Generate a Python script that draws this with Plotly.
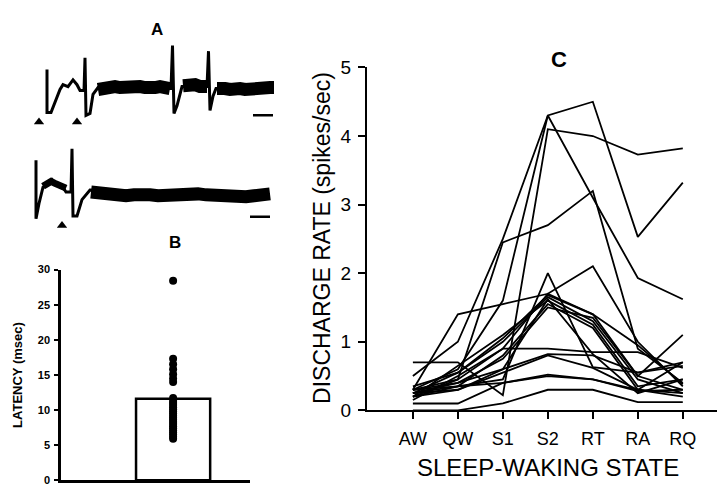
import plotly.graph_objects as go

# ---------------- Panel C data ----------------
states = ["AW", "QW", "S1", "S2", "RT", "RA", "RQ"]
rate_series = [
    [0.30, 1.40, 1.55, 1.70, 2.10, 1.00, 0.35],
    [0.50, 1.00, 2.50, 4.30, 4.50, 2.53, 3.32],
    [0.30, 0.60, 1.60, 4.30, 3.10, 1.93, 1.62],
    [0.70, 0.70, 0.22, 4.10, 4.00, 3.73, 3.82],
    [0.20, 0.45, 2.45, 2.70, 3.20, 0.90, 0.40],
    [0.25, 0.35, 0.45, 2.00, 0.63, 0.55, 0.70],
    [0.30, 0.45, 0.90, 1.70, 1.40, 0.50, 0.30],
    [0.25, 0.55, 1.00, 1.65, 1.30, 0.45, 0.25],
    [0.20, 0.65, 1.10, 1.60, 1.25, 0.35, 0.45],
    [0.30, 0.35, 0.80, 1.55, 1.20, 0.30, 0.70],
    [0.25, 0.40, 0.75, 1.50, 1.35, 0.50, 1.10],
    [0.15, 0.50, 0.90, 0.90, 0.85, 0.85, 0.62],
    [0.30, 0.40, 0.60, 0.82, 0.80, 0.55, 0.65],
    [0.25, 0.30, 0.55, 0.80, 0.62, 0.30, 0.20],
    [0.20, 0.35, 0.40, 0.52, 0.45, 0.30, 0.25],
    [0.00, 0.00, 0.10, 0.30, 0.30, 0.12, 0.12],
    [0.10, 0.10, 0.40, 0.50, 0.45, 0.28, 0.30],
    [0.35, 0.55, 1.05, 1.68, 1.40, 0.95, 0.38],
    [0.20, 0.30, 0.60, 1.62, 0.82, 0.25, 0.45],
]
rate_ticks = [0, 1, 2, 3, 4, 5]

# ---------------- Panel B data ----------------
latency_mean = 11.6
latency_values = [28.4, 17.3, 16.5, 15.8, 15.1, 14.5, 14.0,
                  11.7, 11.3, 11.0, 10.7, 10.4, 10.1, 9.8, 9.5, 9.2, 8.9,
                  8.6, 8.3, 8.0, 7.7, 7.4, 7.1, 6.8, 6.5, 6.2, 5.9]
latency_ticks = [0, 5, 10, 15, 20, 25, 30]

# ---------------- Panel A data (recordings, time vs voltage) ----------------
top_t = [47, 47, 51, 55, 60, 63, 68, 73, 77, 80, 84, 85, 86, 90, 93, 98,
         171, 172.5, 174, 177, 182, 207, 208.5, 210, 213, 216, 274]
top_v = [20, -25, -25, -15, -1, 4, 2, 9, 4, -2, -2, 32, -28, -26, -6, 1,
         0, 45, -26, -18, 2, 2, 39, -23, -8, 0, 0]
top_band1_t = [98, 102, 106, 110, 115, 120, 125, 130, 135, 140, 145, 150, 155, 160, 165, 170]
top_band1_v = [-1, 0, 1, 0, 2, 1, 2, 0, 1, 2, 1, 0, 1, 2, 1, 0]
top_band2_t = [183, 186, 190, 195, 200, 204, 207]
top_band2_v = [3, 4, 3, 4, 2, 3, 2]
top_band3_t = [217, 220, 225, 230, 235, 240, 245, 250, 255, 260, 265, 270, 274]
top_band3_v = [0, 1, 0, -1, 1, 0, -1, 0, 1, -1, 0, 1, 1]
top_stim_t = [39, 77]
top_stim_v = [-35, -35]
top_bar_t = [253, 273]
top_bar_v = [-28, -28]

bot_t = [36, 36, 39, 43, 48, 52, 57, 63, 66, 71, 72, 73, 77, 82, 90, 270]
bot_v = [36, -25, -9, 8, 11, 16, 10, 8, 3, 3, 48, -22, -22, -5, 5, 0]
bot_band0_t = [43, 47, 51, 55, 59, 63, 66]
bot_band0_v = [9, 11, 14, 12, 10, 9, 7]
bot_band1_t = [91, 96, 102, 110, 118, 126, 134, 142, 150, 158, 166, 174, 182, 190,
               198, 206, 214, 222, 230, 238, 246, 254, 262, 270]
bot_band1_v = [3, 2, 1, 0, 1, -1, 0, 1, 0, -1, 0, 1, -1, 0, 1, 0, -1, 1, 0, -1, -2, -1, 0, 1]
bot_stim_t = [62]
bot_stim_v = [-32]
bot_bar_t = [250, 270]
bot_bar_v = [-23, -23]

W, H = 717, 497
FONT = "Liberation Sans, Arial, sans-serif"
fig = go.Figure()

# ---- Panel C lines ----
for s in rate_series:
    fig.add_trace(go.Scatter(x=states, y=s, mode="lines", xaxis="x", yaxis="y",
                             line=dict(color="black", width=1.8), showlegend=False,
                             hoverinfo="skip"))

# ---- Panel B ----
fig.add_trace(go.Bar(x=["cells"], y=[latency_mean], xaxis="x2", yaxis="y2", width=0.8,
                     marker=dict(color="white", line=dict(color="black", width=2.5)),
                     showlegend=False))
fig.add_trace(go.Scatter(x=["cells"] * len(latency_values), y=latency_values, mode="markers",
                         xaxis="x2", yaxis="y2", marker=dict(color="black", size=8),
                         showlegend=False))

# ---- Panel A ----
def rec(t, v, ax, ay, w):
    fig.add_trace(go.Scatter(x=t, y=v, mode="lines", xaxis=ax, yaxis=ay,
                             line=dict(color="black", width=w), showlegend=False,
                             hoverinfo="skip"))

rec(top_t, top_v, "x3", "y3", 3)
rec(top_band1_t, top_band1_v, "x3", "y3", 13)
rec(top_band2_t, top_band2_v, "x3", "y3", 13)
rec(top_band3_t, top_band3_v, "x3", "y3", 13)
rec(top_bar_t, top_bar_v, "x3", "y3", 2.5)
fig.add_trace(go.Scatter(x=top_stim_t, y=top_stim_v, mode="markers", xaxis="x3", yaxis="y3",
                         marker=dict(symbol="triangle-up", color="black", size=9),
                         showlegend=False))
rec(bot_t, bot_v, "x4", "y4", 3)
rec(bot_band0_t, bot_band0_v, "x4", "y4", 7)
rec(bot_band1_t, bot_band1_v, "x4", "y4", 13)
rec(bot_bar_t, bot_bar_v, "x4", "y4", 2.5)
fig.add_trace(go.Scatter(x=bot_stim_t, y=bot_stim_v, mode="markers", xaxis="x4", yaxis="y4",
                         marker=dict(symbol="triangle-up", color="black", size=9),
                         showlegend=False))

hidden = dict(visible=False, showgrid=False, zeroline=False, fixedrange=True)


def label(text, px, py, size, angle=0):
    return dict(text=text, x=px / W, y=1 - py / H, xref="paper", yref="paper",
                xanchor="center", yanchor="middle", showarrow=False, textangle=angle,
                font=dict(size=size, family=FONT, color="black"))


fig.update_layout(
    width=W, height=H, margin=dict(l=0, r=0, t=0, b=0),
    paper_bgcolor="white", plot_bgcolor="white",
    font=dict(family=FONT, color="black"),
    showlegend=False,
    xaxis=dict(domain=[367 / W, 1.0], type="category", categoryorder="array",
               categoryarray=states, range=[-1.02, 6.76],
               showline=True, linecolor="black", linewidth=2, showgrid=False, zeroline=False,
               ticks="outside", ticklen=7, tickwidth=1.5, tickcolor="black",
               tickfont=dict(size=18, family=FONT), ticklabelstandoff=4),
    yaxis=dict(domain=[1 - 418 / H, 1 - 60 / H], range=[0, 5], anchor="x",
               tickvals=rate_ticks, showline=True, linecolor="black", linewidth=2,
               showgrid=False, zeroline=False, ticks="outside", ticklen=7, tickwidth=1.5,
               tickcolor="black", tickfont=dict(size=19, family=FONT), ticklabelstandoff=3),
    xaxis2=dict(domain=[61 / W, 250 / W], type="category", range=[-1.21, 0.83], anchor="y2",
                showline=True, linecolor="black", linewidth=2.5, showgrid=False, zeroline=False,
                showticklabels=False, ticks=""),
    yaxis2=dict(domain=[1 - 491 / H, 1 - 271 / H], range=[0, 30], anchor="x2",
                tickvals=latency_ticks, ticktext=[f"<b>{v}</b>" for v in latency_ticks],
                showline=True, linecolor="black", linewidth=2.5,
                showgrid=False, zeroline=False, ticks="outside", ticklen=4, tickwidth=2,
                tickcolor="black", tickfont=dict(size=11, family=FONT),
                ticklabelstandoff=2),
    xaxis3=dict(domain=[0, 300 / W], range=[0, 300], anchor="y3", **hidden),
    yaxis3=dict(domain=[1 - 120 / H, 1 - 30 / H], range=[-38, 52], anchor="x3", **hidden),
    xaxis4=dict(domain=[0, 300 / W], range=[0, 300], anchor="y4", **hidden),
    yaxis4=dict(domain=[1 - 230 / H, 1 - 140 / H], range=[-37, 53], anchor="x4", **hidden),
    annotations=[
        label("<b>A</b>", 157, 20, 17),
        label("<b>B</b>", 175, 243, 17),
        label("<b>C</b>", 559, 52, 22),
        label("SLEEP-WAKING STATE", 547.5, 478, 24),
        label("DISCHARGE RATE (spikes/sec)", 322, 238, 23, -90),
        label("<b>LATENCY (msec)</b>", 18, 381, 13, -90),
    ],
)

fig.write_html("out.html")
